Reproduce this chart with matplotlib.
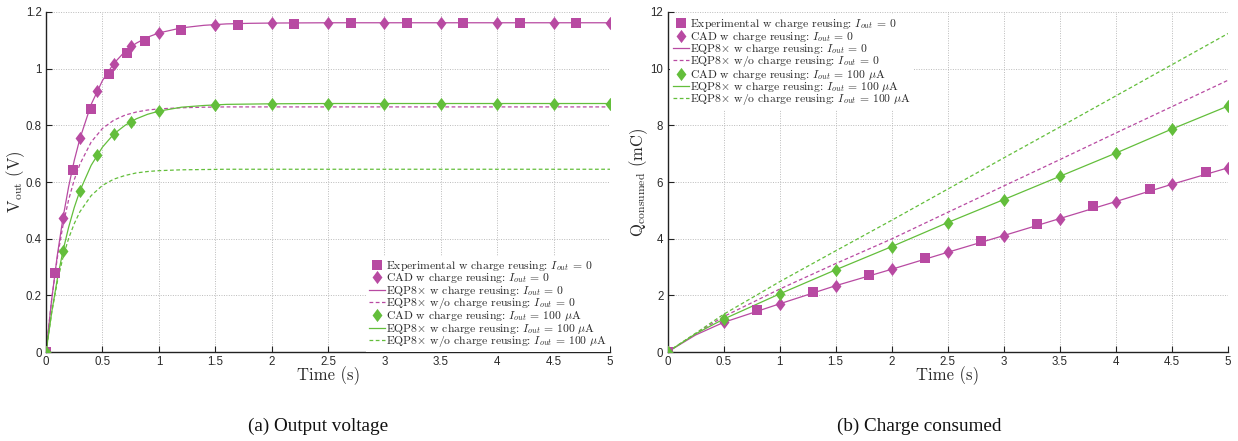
import matplotlib
matplotlib.use('Agg')
from matplotlib import pyplot as plt

# colours
MAG = '#B84AA2'
GRN = '#63BE3B'
TXT = '#2a2a2a'

# ---- (a) output voltage ----
tLine = [0, 0.05, 0.1, 0.15, 0.2, 0.25, 0.3, 0.4, 0.5, 0.6, 0.7, 0.8, 0.9, 1.0,
         1.2, 1.4, 1.6, 1.8, 2.0, 2.5, 3.0, 3.5, 4.0, 4.5, 5.0]
vWith0 = [0, 0.186, 0.342, 0.473, 0.583, 0.676, 0.753, 0.874, 0.958, 1.018, 1.061, 1.090, 1.111, 1.126,
          1.144, 1.153, 1.158, 1.160, 1.161, 1.162, 1.162, 1.162, 1.162, 1.162, 1.162]
vWithout0 = [0, 0.186, 0.333, 0.447, 0.537, 0.608, 0.663, 0.741, 0.789, 0.818, 0.836, 0.847, 0.854, 0.858,
             0.862, 0.864, 0.865, 0.865, 0.865, 0.865, 0.865, 0.865, 0.865, 0.865, 0.865]
vWith100 = [0, 0.140, 0.258, 0.357, 0.440, 0.510, 0.569, 0.659, 0.723, 0.769, 0.800, 0.823, 0.839, 0.850,
            0.864, 0.870, 0.874, 0.875, 0.876, 0.877, 0.877, 0.877, 0.877, 0.877, 0.877]
vWithout100 = [0, 0.139, 0.248, 0.334, 0.401, 0.453, 0.495, 0.552, 0.588, 0.610, 0.623, 0.632, 0.637, 0.640,
               0.643, 0.644, 0.645, 0.645, 0.645, 0.645, 0.645, 0.645, 0.645, 0.645, 0.645]

tExpA = [0, 0.08, 0.24, 0.4, 0.56, 0.72, 0.88, 1.2, 1.7, 2.2, 2.7, 3.2, 3.7, 4.2, 4.7]
vExp0 = [0, 0.278, 0.642, 0.857, 0.982, 1.056, 1.098, 1.138, 1.153, 1.157, 1.160, 1.161, 1.161, 1.161, 1.161]

tCadA = [0, 0.15, 0.3, 0.45, 0.6, 0.75, 1.0, 1.5, 2.0, 2.5, 3.0, 3.5, 4.0, 4.5, 5.0]
vCad0 = [0, 0.472, 0.754, 0.922, 1.018, 1.079, 1.127, 1.155, 1.161, 1.162, 1.162, 1.162, 1.162, 1.162, 1.162]
vCad100 = [0, 0.355, 0.568, 0.695, 0.769, 0.812, 0.851, 0.871, 0.877, 0.877, 0.877, 0.877, 0.877, 0.877, 0.877]

# ---- (b) charge consumed ----
tQ = [0, 0.25, 0.5, 1.0, 1.5, 2.0, 2.5, 3.0, 3.5, 4.0, 4.5, 5.0]
qWith0 = [0, 0.60, 1.045, 1.70, 2.34, 2.92, 3.52, 4.11, 4.71, 5.31, 5.92, 6.50]
qWithout0 = [0, 0.64, 1.25, 2.22, 3.12, 3.99, 4.93, 5.86, 6.79, 7.73, 8.66, 9.59]
qWith100 = [0, 0.64, 1.16, 2.05, 2.90, 3.72, 4.57, 5.38, 6.20, 7.02, 7.87, 8.68]
qWithout100 = [0, 0.66, 1.33, 2.48, 3.57, 4.65, 5.75, 6.85, 7.94, 9.04, 10.14, 11.24]

tExpB = [0, 0.8, 1.3, 1.8, 2.3, 2.8, 3.3, 3.8, 4.3, 4.8]
qExp0 = [0, 1.49, 2.11, 2.72, 3.33, 3.93, 4.53, 5.17, 5.76, 6.36]
tCadB = [0, 0.5, 1.0, 1.5, 2.0, 2.5, 3.0, 3.5, 4.0, 4.5, 5.0]
qCad0 = [0, 1.045, 1.70, 2.34, 2.92, 3.52, 4.11, 4.71, 5.31, 5.92, 6.50]
qCad100 = [0, 1.16, 2.05, 2.90, 3.72, 4.57, 5.38, 6.20, 7.02, 7.87, 8.68]

labels = ['Experimental w charge reusing: $I_{out}$ = 0',
          'CAD w charge reusing: $I_{out}$ = 0',
          'EQP8$\\times$ w charge reusing: $I_{out}$ = 0',
          'EQP8$\\times$ w/o charge reusing: $I_{out}$ = 0',
          'CAD w charge reusing: $I_{out}$ = 100 $\\mu$A',
          'EQP8$\\times$ w charge reusing: $I_{out}$ = 100 $\\mu$A',
          'EQP8$\\times$ w/o charge reusing: $I_{out}$ = 100 $\\mu$A']

plt.rcParams['mathtext.fontset'] = 'cm'
plt.rcParams['font.family'] = 'Liberation Sans'

fig = plt.figure(figsize=(12.38, 4.41), dpi=100)
axA = fig.add_axes([0.0372, 0.2018, 0.4556, 0.771])
axB = fig.add_axes([0.5392, 0.2018, 0.4527, 0.771])

lw = 0.9
ms = 6.5
dms = 9.5
# matlab style diamond, a bit taller than wide
diamond = [(0, 1), (0.75, 0), (0, -1), (-0.75, 0), (0, 1)]


def draw(ax, tMarkExp, exp0, tMarkCad, cad0, cad100, tl, w0, wo0, w100, wo100):
    ax.plot(tMarkExp, exp0, 's', color=MAG, ms=ms, mew=0, label=labels[0], zorder=4)
    ax.plot(tMarkCad, cad0, marker=diamond, ls='none', color=MAG, ms=dms, mew=0, label=labels[1], zorder=4)
    ax.plot(tl, w0, '-', color=MAG, lw=lw, label=labels[2])
    ax.plot(tl, wo0, '--', color=MAG, lw=lw, dashes=(3, 2), label=labels[3])
    ax.plot(tMarkCad, cad100, marker=diamond, ls='none', color=GRN, ms=dms, mew=0, label=labels[4], zorder=4)
    ax.plot(tl, w100, '-', color=GRN, lw=lw, label=labels[5])
    ax.plot(tl, wo100, '--', color=GRN, lw=lw, dashes=(3, 2), label=labels[6])

    ax.set_xlim(0, 5)
    ax.set_xticks([0, 0.5, 1, 1.5, 2, 2.5, 3, 3.5, 4, 4.5, 5])
    ax.set_xticklabels(['0', '0.5', '1', '1.5', '2', '2.5', '3', '3.5', '4', '4.5', '5'])
    ax.grid(True, linestyle=(0, (1, 1.5)), color='#bbbbbb', lw=0.7)
    ax.set_axisbelow(True)
    for s in ['top', 'right']:
        ax.spines[s].set_visible(False)
    for s in ['left', 'bottom']:
        ax.spines[s].set_color('#222222')
        ax.spines[s].set_linewidth(1.0)
    ax.tick_params(direction='in', length=4, width=0.8, colors='#222222', labelsize=8.3,
                   labelcolor=TXT, pad=3)
    ax.set_xlabel('Time (s)', fontfamily='cmr10', fontsize=12, color=TXT)
    ax.xaxis.set_label_coords(0.5, -0.042)


draw(axA, tExpA, vExp0, tCadA, vCad0, vCad100, tLine, vWith0, vWithout0, vWith100, vWithout100)
axA.set_ylim(0, 1.2)
axA.set_yticks([0, 0.2, 0.4, 0.6, 0.8, 1.0, 1.2])
axA.set_yticklabels(['0', '0.2', '0.4', '0.6', '0.8', '1', '1.2'])
axA.set_ylabel('V$_{\\mathrm{out}}$ (V)', fontfamily='cmr10', fontsize=12, color=TXT)
axA.yaxis.set_label_coords(-0.034, 0.5)

draw(axB, tExpB, qExp0, tCadB, qCad0, qCad100, tQ, qWith0, qWithout0, qWith100, qWithout100)
axB.set_ylim(0, 12)
axB.set_yticks([0, 2, 4, 6, 8, 10, 12])
axB.set_ylabel('Q$_{\\mathrm{consumed}}$ (mC)', fontfamily='cmr10', fontsize=12, color=TXT)
axB.yaxis.set_label_coords(-0.031, 0.5)

legkw = dict(prop={'family': 'cmr10', 'size': 8.4}, frameon=True, framealpha=1,
             edgecolor='none', fancybox=False, handlelength=1.4, handletextpad=0.1,
             labelspacing=-0.14, borderpad=0.25, labelcolor=TXT)
axA.legend(loc='lower right', bbox_to_anchor=(1.0, 0.0), borderaxespad=0.0, **legkw)
axB.legend(loc='upper left', bbox_to_anchor=(0.0, 1.0), borderaxespad=0.2, **legkw)

fig.text(318 / 1238, 0.034, '(a) Output voltage', ha='center', va='center',
         fontfamily='Liberation Serif', fontsize=13.8, color='#111111')
fig.text(919 / 1238, 0.034, '(b) Charge consumed', ha='center', va='center',
         fontfamily='Liberation Serif', fontsize=13.8, color='#111111')

fig.savefig('out.png', dpi=100)
